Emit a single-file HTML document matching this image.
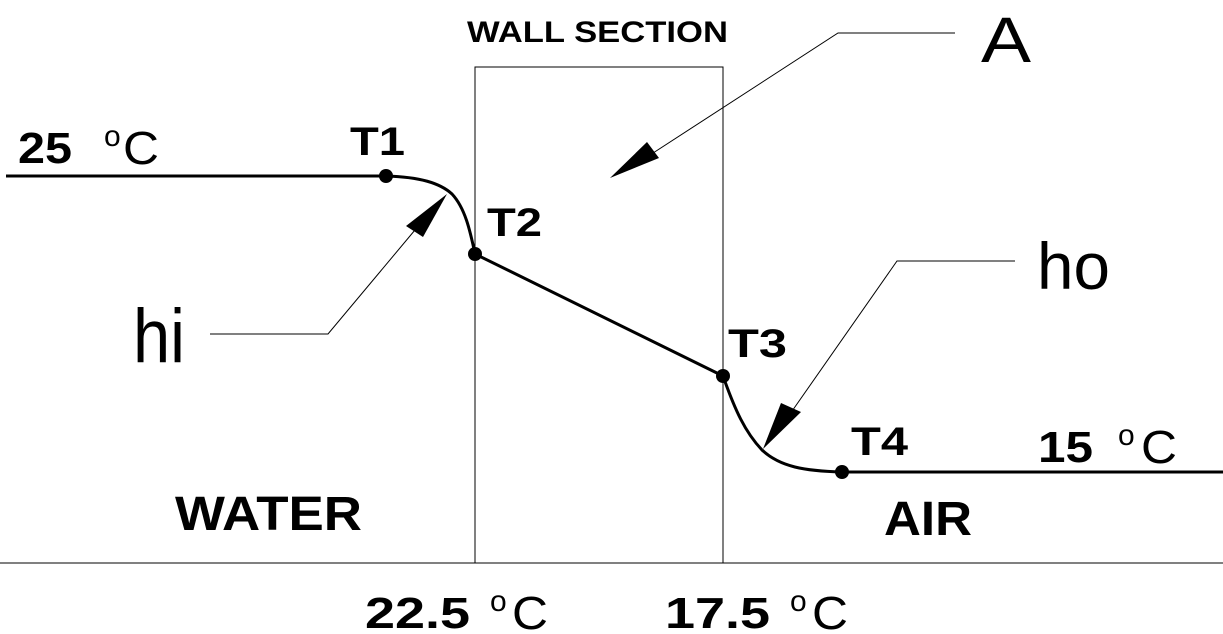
<!DOCTYPE html>
<html><head><style>body{margin:0;background:#fff}svg{display:block}</style></head><body>
<svg width="1223" height="634" viewBox="0 0 1223 634" xmlns="http://www.w3.org/2000/svg" font-family="Liberation Sans, sans-serif">
<rect x="475" y="67" width="248" height="496" fill="none" stroke="#000" stroke-width="1"/>
<line x1="0" y1="563" x2="1223" y2="563" stroke="#000" stroke-width="1"/>
<g fill="none" stroke="#000" stroke-width="3">
<path d="M6 176 H386 C420 177 440 183 452 194 C465 208 470 230 475 254 L723 376 C735 410 745 432 762 450 C780 467 805 471 842 472 H1223"/>
</g>
<g fill="#000">
<circle cx="386" cy="176" r="7"/><circle cx="475" cy="254" r="7"/><circle cx="723" cy="376" r="7"/><circle cx="842" cy="472" r="7"/>
</g>
<g fill="none" stroke="#000" stroke-width="1">
<polyline points="955,33 838,33 650,155"/>
<polyline points="210,334 328,334 420,224"/>
<polyline points="1015,261 897,261 790,414"/>
</g>
<g fill="#000">
<polygon points="610,178 647,142 659,158"/>
<polygon points="447,194 423,237 406,226"/>
<polygon points="763,449 781,403 801,412"/>
</g>
<g font-weight="bold" font-size="40">
<text x="350" y="155" textLength="55" lengthAdjust="spacingAndGlyphs">T1</text>
<text x="487" y="236" textLength="55" lengthAdjust="spacingAndGlyphs">T2</text>
<text x="728" y="357" textLength="59" lengthAdjust="spacingAndGlyphs">T3</text>
<text x="851" y="455" textLength="57" lengthAdjust="spacingAndGlyphs">T4</text>
</g>
<g font-weight="bold" font-size="44">
<text x="18" y="163" textLength="54" lengthAdjust="spacingAndGlyphs">25</text>
<text x="1038" y="462" textLength="55" lengthAdjust="spacingAndGlyphs">15</text>
<text x="365" y="628" textLength="105" lengthAdjust="spacingAndGlyphs">22.5</text>
<text x="665" y="628" textLength="105" lengthAdjust="spacingAndGlyphs">17.5</text>
</g>
<g font-size="46">
<text x="123" y="164" textLength="36" lengthAdjust="spacingAndGlyphs">C</text>
<text x="1141" y="463" textLength="36" lengthAdjust="spacingAndGlyphs">C</text>
<text x="512" y="629" textLength="36" lengthAdjust="spacingAndGlyphs">C</text>
<text x="812" y="629" textLength="36" lengthAdjust="spacingAndGlyphs">C</text>
</g>
<g font-size="30">
<text x="104" y="146">o</text><text x="1118" y="445">o</text><text x="490" y="611">o</text><text x="790" y="611">o</text>
</g>
<text x="467" y="42" font-weight="bold" font-size="30" textLength="261" lengthAdjust="spacingAndGlyphs">WALL SECTION</text>
<text x="981" y="62" font-size="64" textLength="50" lengthAdjust="spacingAndGlyphs">A</text>
<text x="133" y="362" font-size="76" textLength="52" lengthAdjust="spacingAndGlyphs">hi</text>
<text x="1037" y="289" font-size="66" textLength="73" lengthAdjust="spacingAndGlyphs">ho</text>
<text x="175" y="530" font-weight="bold" font-size="48" textLength="187" lengthAdjust="spacingAndGlyphs">WATER</text>
<text x="884" y="535" font-weight="bold" font-size="48" textLength="88" lengthAdjust="spacingAndGlyphs">AIR</text>
</svg>
</body></html>
